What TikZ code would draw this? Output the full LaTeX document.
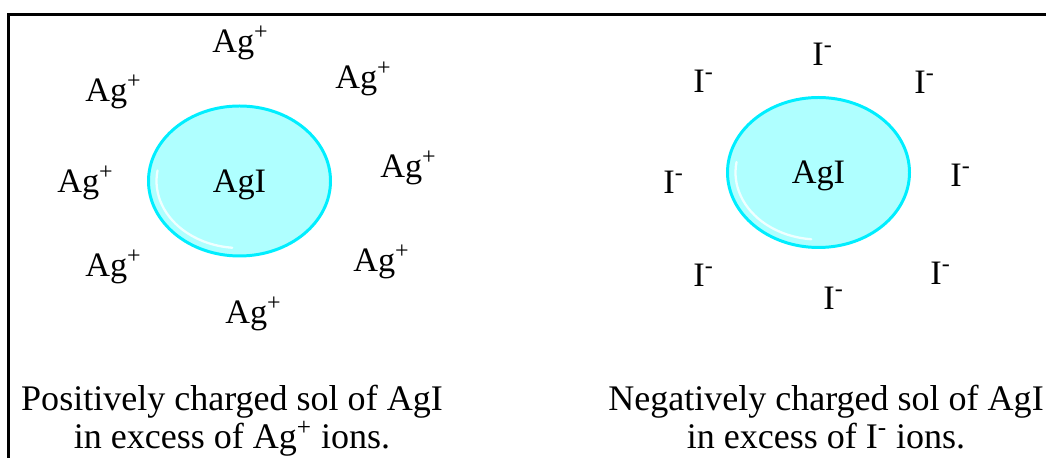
\documentclass[tikz,border=0pt]{standalone}
\usepackage{fontspec}
\setmainfont{Liberation Serif}
\usepackage{color}
\usepackage{tikz}
\usetikzlibrary{shapes.geometric}
\definecolor{solfill}{RGB}{175,255,255}
\definecolor{soledge}{RGB}{0,238,255}
\definecolor{solshine}{RGB}{240,255,255}

\begin{document}
\begin{tikzpicture}
		\tikzset{ion/.style={anchor=base west,inner sep=0pt,font=\fontsize{19.5}{20}\selectfont},
		sol/.style={draw=soledge,fill=solfill,ellipse,line width=1.7pt,minimum width=3.64cm,minimum height=3cm,inner sep=0pt,text depth=0pt,font=\fontsize{19.5}{20}\selectfont},
		caption/.style={anchor=base,inner sep=0pt,text depth=0pt,font=\fontsize{20.5}{20}\selectfont}}
		\useasboundingbox (0,0) rectangle (20.92,-9.16);
		
		%Marco
		\draw[line width=1.7pt] (20.92,-0.29) -- (0.17,-0.29) -- (0.17,-9.16);
		
		%Soles
		\node (s1) at (4.79,-3.62) [sol] {AgI};
		\node (s2) at (16.37,-3.45) [sol] {AgI};
		\draw[solshine,line width=1.3pt,line cap=round] ([shift={(171:1.66 and 1.34)}]s1.center) arc[start angle=171,end angle=265,x radius=1.66,y radius=1.34];
		\draw[solshine,line width=1.3pt,line cap=round] ([shift={(171:1.66 and 1.34)}]s2.center) arc[start angle=171,end angle=265,x radius=1.66,y radius=1.34];
		
		%Iones Ag+
		\node (p1) at (4.24,-1.06) [ion] {Ag\textsuperscript{+}};
		\node (p2) at (1.70,-2.04) [ion] {Ag\textsuperscript{+}};
		\node (p3) at (6.70,-1.78) [ion] {Ag\textsuperscript{+}};
		\node (p4) at (1.14,-3.86) [ion] {Ag\textsuperscript{+}};
		\node (p5) at (7.60,-3.56) [ion] {Ag\textsuperscript{+}};
		\node (p6) at (1.70,-5.54) [ion] {Ag\textsuperscript{+}};
		\node (p7) at (7.06,-5.44) [ion] {Ag\textsuperscript{+}};
		\node (p8) at (4.50,-6.48) [ion] {Ag\textsuperscript{+}};
		
		%Iones I-
		\node (n1) at (16.24,-1.32) [ion] {I\textsuperscript{-}};
		\node (n2) at (13.86,-1.86) [ion] {I\textsuperscript{-}};
		\node (n3) at (18.28,-1.88) [ion] {I\textsuperscript{-}};
		\node (n4) at (19.00,-3.74) [ion] {I\textsuperscript{-}};
		\node (n5) at (13.26,-3.88) [ion] {I\textsuperscript{-}};
		\node (n6) at (13.86,-5.74) [ion] {I\textsuperscript{-}};
		\node (n7) at (18.60,-5.70) [ion] {I\textsuperscript{-}};
		\node (n8) at (16.46,-6.20) [ion] {I\textsuperscript{-}};
		
		%Textos
		\node (c1) at (4.64,-8.22) [caption] {Positively charged sol of AgI};
		\node (c2) at (4.64,-8.98) [caption] {in excess of Ag\textsuperscript{+} ions.};
		\node (c3) at (16.52,-8.22) [caption] {Negatively charged sol of AgI};
		\node (c4) at (16.52,-8.98) [caption] {in excess of I\textsuperscript{-} ions.};
	\end{tikzpicture}
\end{document}
